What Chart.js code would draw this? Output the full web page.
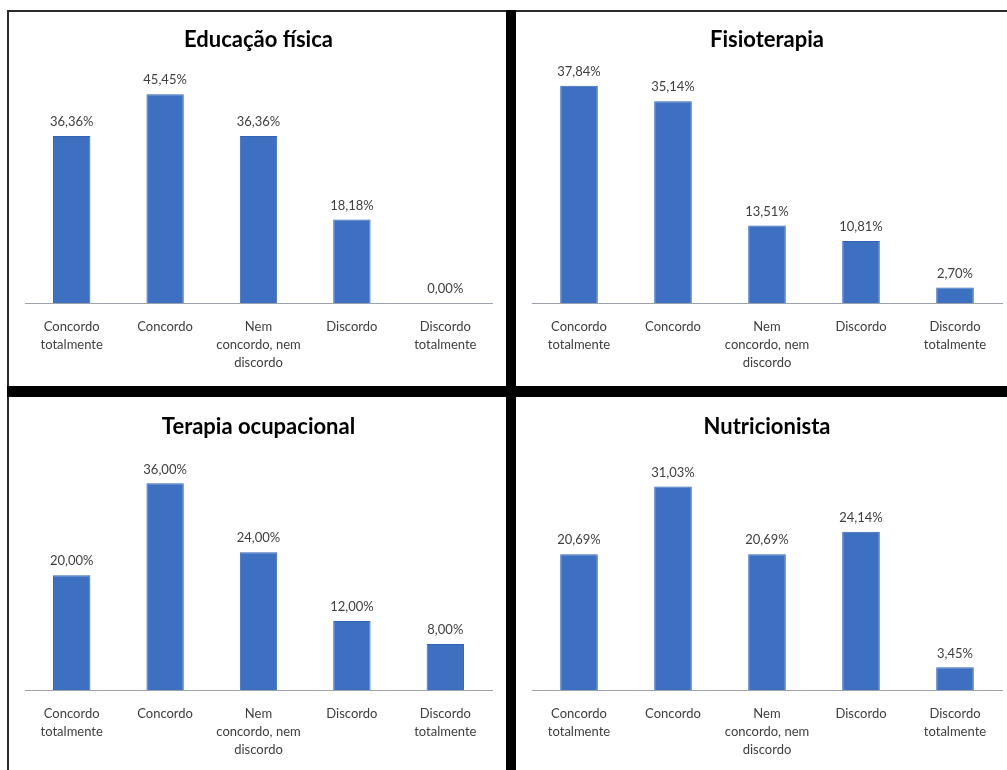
<!DOCTYPE html>
<html>
<head>
<meta charset="utf-8">
<script src="https://cdn.jsdelivr.net/npm/chart.js@4/dist/chart.umd.min.js"></script>
<style>
  html, body { margin: 0; padding: 0; background: #fff; }
  body { width: 1007px; height: 770px; position: relative; overflow: hidden; }
  .panel { position: absolute; background: #fff; }
  .line { position: absolute; background: #000; }
</style>
</head>
<body>
<div class="panel" style="left:9px;top:12px;width:497px;height:374px"><canvas id="c1"></canvas></div>
<div class="panel" style="left:516px;top:12px;width:491px;height:374px"><canvas id="c2"></canvas></div>
<div class="panel" style="left:9px;top:397px;width:497px;height:373px"><canvas id="c3"></canvas></div>
<div class="panel" style="left:516px;top:397px;width:491px;height:373px"><canvas id="c4"></canvas></div>

<!-- frame lines -->
<div class="line" style="left:7px;top:10px;width:1000px;height:2px;background:#2a2a2a"></div>
<div class="line" style="left:7px;top:10px;width:2px;height:760px;background:#2a2a2a"></div>
<div class="line" style="left:506px;top:10px;width:10px;height:760px"></div>
<div class="line" style="left:7px;top:386px;width:1000px;height:11px"></div>

<script>
// categories shared by all four charts
const categories = [
  ['Concordo', 'totalmente'],
  ['Concordo'],
  ['Nem', 'concordo, nem', 'discordo'],
  ['Discordo'],
  ['Discordo', 'totalmente']
];

// percentages per profession
const educacaoFisica = [36.36, 45.45, 36.36, 18.18, 0.00];
const fisioterapia = [37.84, 35.14, 13.51, 10.81, 2.70];
const terapiaOcupacional = [20.00, 36.00, 24.00, 12.00, 8.00];
const nutricionista = [20.69, 31.03, 20.69, 24.14, 3.45];

const barColor = '#3d70c1';
const textColor = '#404040';
const fontFamily = 'Lato, "Open Sans", sans-serif';

// draws "36,36%" style value labels above each bar
const valueLabels = {
  id: 'valueLabels',
  afterDatasetsDraw(chart) {
    const ctx = chart.ctx;
    const meta = chart.getDatasetMeta(0);
    const values = chart.data.datasets[0].data;
    ctx.save();
    ctx.font = '13px ' + fontFamily;
    ctx.fillStyle = textColor;
    ctx.textAlign = 'center';
    ctx.textBaseline = 'middle';
    meta.data.forEach((bar, i) => {
      const txt = values[i].toFixed(2).replace('.', ',') + '%';
      ctx.fillText(txt, bar.x, bar.y - 14);
    });
    ctx.restore();
  }
};

function makeChart(canvasId, title, values, yMax, opts) {
  const canvas = document.getElementById(canvasId);
  return new Chart(canvas, {
    type: 'bar',
    data: {
      labels: categories,
      datasets: [{
        data: values,
        backgroundColor: barColor,
        borderColor: '#3563b3',
        borderWidth: 1,
        barPercentage: 0.4,
        categoryPercentage: 1.0
      }]
    },
    options: {
      responsive: true,
      maintainAspectRatio: false,
      animation: false,
      layout: {
        padding: { left: 16, right: opts.right, top: 0, bottom: 0 }
      },
      plugins: {
        legend: { display: false },
        tooltip: { enabled: false },
        title: {
          display: true,
          text: title,
          color: '#000',
          font: { family: fontFamily, size: 22, weight: 'bold', lineHeight: 1.2 },
          padding: { top: opts.titleTop, bottom: 20 }
        }
      },
      scales: {
        x: {
          grid: { display: false, drawTicks: false },
          border: { display: true, color: '#9da3ad', width: 1 },
          ticks: {
            color: textColor,
            font: { family: fontFamily, size: 13, lineHeight: '18px' },
            padding: 15,
            maxRotation: 0,
            autoSkip: false
          },
          afterFit(scale) { scale.height = opts.axisH; }
        },
        y: {
          display: false,
          min: 0,
          max: yMax
        }
      }
    },
    plugins: [valueLabels]
  });
}

makeChart('c1', 'Educação física', educacaoFisica, 50, { right: 14, titleTop: 15, axisH: 83 });
makeChart('c2', 'Fisioterapia', fisioterapia, 40, { right: 5, titleTop: 15, axisH: 83 });
makeChart('c3', 'Terapia ocupacional', terapiaOcupacional, 40, { right: 14, titleTop: 17, axisH: 80 });
makeChart('c4', 'Nutricionista', nutricionista, 35, { right: 5, titleTop: 17, axisH: 80 });
</script>
</body>
</html>
